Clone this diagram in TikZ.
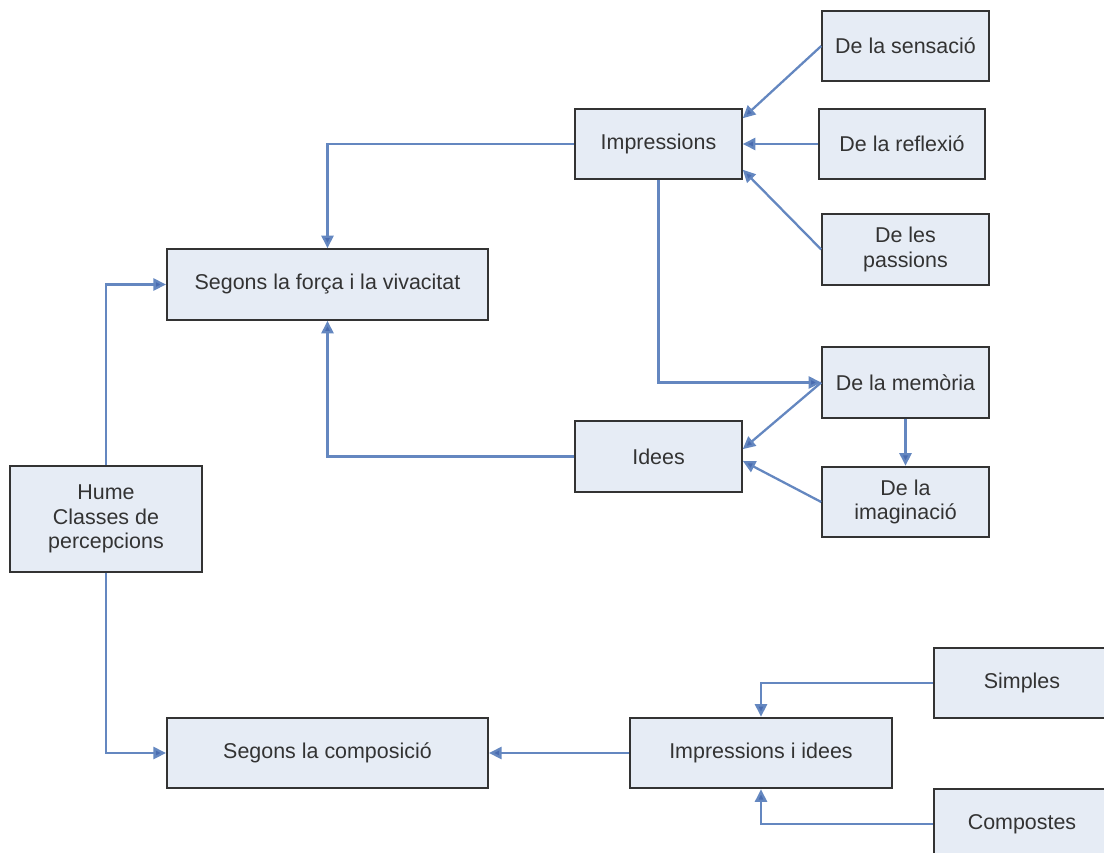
\documentclass[tikz,border=0pt]{standalone}
\usepackage{fontspec}
\setmainfont{Liberation Sans}
\usepackage{xcolor}
\usepackage{tikz}
\usetikzlibrary{arrows.meta,positioning}
\definecolor{blau}{HTML}{6487C0}
\definecolor{blaufosc}{HTML}{4A6CB0}
\definecolor{blauclar}{HTML}{E6ECF5}
\definecolor{gris}{HTML}{333333}
\tikzset{
  caixa/.style={draw=gris,fill=blauclar,text=gris,line width=1.2pt,align=center,font=\fontsize{12.2}{14}\selectfont,inner sep=3pt,minimum width=3.33cm,minimum height=1.41cm},
  caixagran/.style={caixa,minimum width=6.42cm},
  fletxa/.style={-{Triangle[length=2.5mm,width=2.4mm,fill=blaufosc]},line width=1.3pt,blau},
}
\begin{document}
\begin{tikzpicture}[x=0.02cm,y=-0.02cm]
  \useasboundingbox (0,0) rectangle (1104,852);
  \clip (0,0) rectangle (1104,852);
  \node[caixa] (sens) at (905.5,46) {De la sensació};
  \node[caixa] (impr) at (658.5,144) {Impressions};
  \node[caixa] (refl) at (902,144) {De la reflexió};
  \node[caixa] (pass) at (905.5,249.5) {De les\\passions};
  \node[caixagran] (forca) at (327.5,284.5) {Segons la força i la vivacitat};
  \node[caixa] (mem) at (905.5,382.5) {De la memòria};
  \node[caixa] (idees) at (658.5,456.5) {Idees};
  \node[caixa] (imag) at (905.5,502) {De la\\imaginació};
  \node[caixa,minimum width=3.84cm,minimum height=2.12cm] (hume) at (106,519) {Hume\\Classes de\\percepcions};
  \node[caixagran] (comp) at (327.5,753) {Segons la composició};
  \node[caixa,minimum width=5.24cm] (ii) at (761,753) {Impressions i idees};
  \node[caixa,minimum width=3.52cm] (simp) at (1022,683) {Simples};
  \node[caixa,minimum width=3.52cm] (compo) at (1022,824) {Compostes};
  \draw[fletxa] (sens.west) -- (impr.17);
  \draw[fletxa] (refl.west) -- (impr.east);
  \draw[fletxa] (pass.west) -- (impr.-17);
  \draw[fletxa] (impr.west) -| (forca.north);
  \draw[fletxa] (impr.south) |- (mem.west);
  \draw[fletxa] (mem.south) -- (imag.north);
  \draw[fletxa] (mem.west) -- (idees.5);
  \draw[fletxa] (imag.west) -- (idees.-3);
  \draw[fletxa] (idees.west) -| (forca.south);
  \draw[fletxa] (hume.north) |- (forca.west);
  \draw[fletxa] (hume.south) |- (comp.west);
  \draw[fletxa] (ii.west) -- (comp.east);
  \draw[fletxa] (simp.west) -| (ii.north);
  \draw[fletxa] (compo.west) -| (ii.south);
\end{tikzpicture}
\end{document}
